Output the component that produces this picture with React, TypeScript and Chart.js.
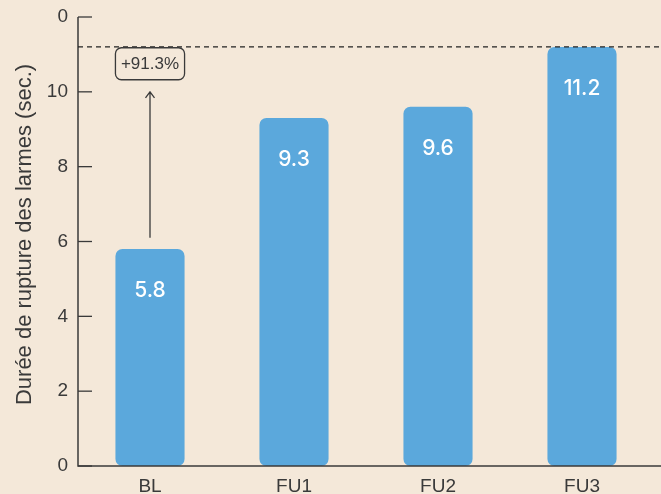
import { useEffect, useRef } from 'react';
import { Chart, registerables } from 'chart.js';

Chart.register(...registerables);

const categories = ['BL', 'FU1', 'FU2', 'FU3'];
const values = [5.8, 9.3, 9.6, 11.2];
const yTicks = [0, 2, 4, 6, 8, 10, 12];
const yTickLabels = ['0', '2', '4', '6', '8', '10', '0'];
const yTitle = 'Durée de rupture des larmes (sec.)';
const referenceLine = 11.2;
const arrowFrom = 6.1;
const arrowTo = 10;
const changeLabel = '+91.3%';
const changeLabelAt = 10.75;

const BG = '#f4e8d9';
const BAR = '#5ba8dc';
const INK = '#3a3a3a';
const FONT = "'Liberation Sans', Arial, sans-serif";

export default function App() {
  const ref = useRef<HTMLCanvasElement | null>(null);

  useEffect(() => {
    document.body.style.margin = '0';
    document.body.style.background = BG;
    const canvas = ref.current;
    if (!canvas) return;

    const overlay = {
      id: 'overlay',
      beforeDraw(chart: any) {
        const { ctx, width, height } = chart;
        ctx.save();
        ctx.fillStyle = BG;
        ctx.fillRect(0, 0, width, height);
        ctx.restore();
      },
      afterDatasetsDraw(chart: any) {
        const { ctx, chartArea, width } = chart;
        const ys = chart.scales.y;
        const xs = chart.scales.x;
        ctx.save();
        // y-axis title
        ctx.save();
        ctx.translate(25, (chartArea.top + chartArea.bottom) / 2 - 7);
        ctx.rotate(-Math.PI / 2);
        ctx.fillStyle = INK;
        ctx.font = `22px ${FONT}`;
        ctx.textAlign = 'center';
        ctx.textBaseline = 'middle';
        ctx.fillText(yTitle, 0, 0);
        ctx.restore();
        ctx.strokeStyle = INK;
        ctx.lineWidth = 1.5;
        ctx.beginPath();
        ctx.moveTo(chartArea.left, chartArea.top);
        ctx.lineTo(chartArea.left, chartArea.bottom);
        ctx.lineTo(width, chartArea.bottom);
        ctx.stroke();
        ctx.lineWidth = 1.3;
        yTicks.forEach((v) => {
          const y = ys.getPixelForValue(v);
          ctx.beginPath();
          ctx.moveTo(chartArea.left, y);
          ctx.lineTo(chartArea.left + 14, y);
          ctx.stroke();
        });
        const ry = ys.getPixelForValue(referenceLine);
        ctx.setLineDash([5, 4]);
        ctx.lineWidth = 1.2;
        ctx.strokeStyle = '#222';
        ctx.beginPath();
        ctx.moveTo(chartArea.left, ry);
        ctx.lineTo(width, ry);
        ctx.stroke();
        ctx.setLineDash([]);
        const ax = xs.getPixelForValue(0);
        const y0 = ys.getPixelForValue(arrowFrom);
        const y1 = ys.getPixelForValue(arrowTo);
        ctx.strokeStyle = INK;
        ctx.lineWidth = 1.3;
        ctx.beginPath();
        ctx.moveTo(ax, y0);
        ctx.lineTo(ax, y1);
        ctx.moveTo(ax - 4.5, y1 + 6);
        ctx.lineTo(ax, y1);
        ctx.lineTo(ax + 4.5, y1 + 6);
        ctx.stroke();
        ctx.font = `17px ${FONT}`;
        const tw = ctx.measureText(changeLabel).width;
        const bw = tw + 11;
        const bh = 32;
        const by = ys.getPixelForValue(changeLabelAt);
        ctx.fillStyle = BG;
        ctx.beginPath();
        (ctx as any).roundRect(ax - bw / 2, by - bh / 2, bw, bh, 6);
        ctx.fill();
        ctx.stroke();
        ctx.fillStyle = INK;
        ctx.textAlign = 'center';
        ctx.textBaseline = 'middle';
        ctx.fillText(changeLabel, ax, by + 1);
        ctx.fillStyle = '#ffffff';
        ctx.font = `500 21px Inter, ${FONT}`;
        const meta = chart.getDatasetMeta(0);
        meta.data.forEach((bar: any, i: number) => {
          ctx.fillText(values[i].toFixed(1), bar.x, bar.y + 42);
        });
        ctx.restore();
      },
    };

    const chart = new Chart(canvas, {
      type: 'bar',
      data: {
        labels: categories,
        datasets: [
          {
            data: values,
            backgroundColor: BAR,
            borderRadius: 7,
            borderSkipped: false,
            barPercentage: 0.48,
            categoryPercentage: 1,
          },
        ],
      },
      options: {
        responsive: false,
        animation: false,
        layout: { padding: { top: 17, right: 7, left: 0, bottom: 0 } },
        plugins: { legend: { display: false }, tooltip: { enabled: false } },
        scales: {
          x: {
            grid: { display: false, drawTicks: false },
            border: { display: false },
            ticks: { color: INK, font: { family: FONT, size: 19 }, padding: 9 },
            afterFit: (s: any) => {
              s.height = 28;
              s.paddingLeft = 0;
              s.paddingRight = 0;
            },
          },
          y: {
            min: 0,
            max: 12,
            grid: { display: false, drawTicks: false },
            border: { display: false },
            afterBuildTicks: (s: any) => {
              s.ticks = yTicks.map((v) => ({ value: v }));
            },
            ticks: {
              color: INK,
              font: { family: FONT, size: 19 },
              padding: 10,
              callback: (_v: any, i: number) => yTickLabels[i],
            },
            afterFit: (s: any) => {
              s.width = 78;
              s.paddingTop = 0;
              s.paddingBottom = 0;
            },
          },
        },
      },
      plugins: [overlay],
    });
    return () => chart.destroy();
  }, []);

  return (
    <div style={{ width: 661, height: 494 }}>
      <canvas ref={ref} width={661} height={494} style={{ display: 'block' }} />
    </div>
  );
}
